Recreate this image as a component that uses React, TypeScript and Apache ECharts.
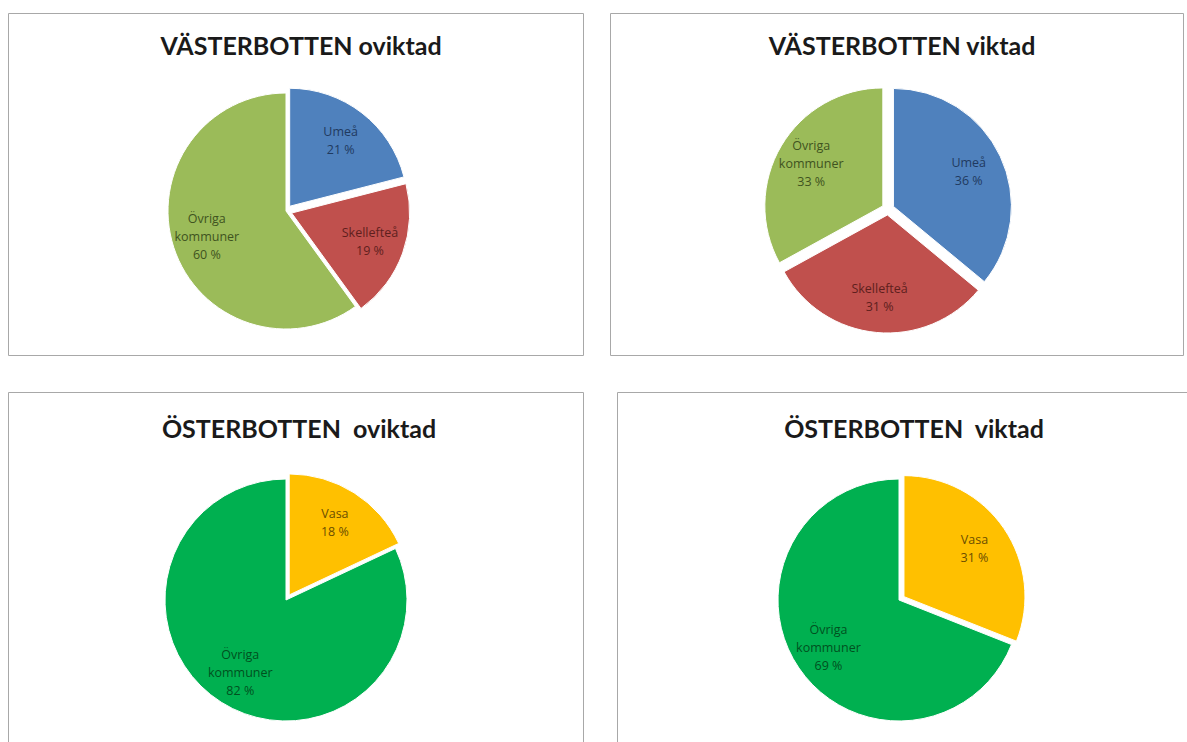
import React, { useEffect, useRef } from "react";
import * as echarts from "echarts";

const vbCategories = ["Umeå", "Skellefteå", "Övriga\nkommuner"];
const vbUnweighted = [21, 19, 60];
const vbWeighted = [36, 31, 33];
const obCategories = ["Vasa", "Övriga\nkommuner"];
const obUnweighted = [18, 82];
const obWeighted = [31, 69];

const titles = [
  "VÄSTERBOTTEN oviktad",
  "VÄSTERBOTTEN viktad",
  "ÖSTERBOTTEN  oviktad",
  "ÖSTERBOTTEN  viktad",
];

const vbColors = ["#4F81BD", "#C0504D", "#9BBB59"];
const vbLabelColors = ["#1F3A60", "#5E1F1D", "#3F5320"];
const obColors = ["#FFC000", "#00B050"];
const obLabelColors = ["#6B4E00", "#00501F"];

function makePie(
  cats: string[],
  vals: number[],
  colors: string[],
  labelColors: string[],
  selected: boolean[],
  center: [number, number],
  r: number
) {
  const base = {
    type: "pie",
    center,
    startAngle: 90,
    clockwise: true,
    selectedMode: "multiple",
    selectedOffset: 6,
    avoidLabelOverlap: false,
    silent: true,
    emphasis: { disabled: true },
    labelLine: { show: false },
  };
  const pie = {
    ...base,
    radius: [0, r],
    label: { show: false },
    data: cats.map((c, i) => ({
      name: c,
      value: vals[i],
      selected: selected[i],
      itemStyle: { color: colors[i], borderColor: "#ffffff", borderWidth: 1 },
    })),
  };
  const labels = {
    ...base,
    radius: [r * 0.36, r],
    z: 5,
    label: {
      show: true,
      position: "inside",
      formatter: "{b}\n{c} %",
      fontFamily: "Open Sans",
      fontSize: 12.5,
      lineHeight: 18,
    },
    data: cats.map((c, i) => ({
      name: c,
      value: vals[i],
      selected: selected[i],
      itemStyle: { color: "rgba(0,0,0,0)", borderWidth: 0 },
      label: { color: labelColors[i] },
    })),
  };
  return [pie, labels];
}

export default function App() {
  const ref = useRef<HTMLDivElement>(null);
  useEffect(() => {
    if (!ref.current) return;
    const chart = echarts.init(ref.current, undefined, { renderer: "svg" });
    const titleCenters: [number, number][] = [
      [296, 27],
      [897, 27],
      [294, 410],
      [909, 410],
    ];
    const option = {
      animation: false,
      backgroundColor: "#ffffff",
      title: titles.map((t, i) => ({
        text: t,
        left: titleCenters[i][0],
        top: titleCenters[i][1],
        textAlign: "center",
        textStyle: {
          fontFamily: "Lato",
          fontWeight: "bold",
          fontSize: 25,
          color: "#1a1a1a",
        },
      })),
      graphic: [
        { x: 8.5, y: 13.5, w: 575, h: 342 },
        { x: 610.5, y: 13.5, w: 573, h: 342 },
        { x: 8.5, y: 392.5, w: 575, h: 400 },
        { x: 617.5, y: 392.5, w: 600, h: 400 },
      ].map((b) => ({
        type: "rect",
        shape: { x: b.x, y: b.y, width: b.w, height: b.h },
        style: { fill: "none", stroke: "#A8A8A8", lineWidth: 1 },
        silent: true,
      })),
      series: [
        ...makePie(vbCategories, vbUnweighted, vbColors, vbLabelColors, [true, true, false], [286, 211], 118),
        ...makePie(vbCategories, vbWeighted, vbColors, vbLabelColors, [true, true, true], [888, 209], 118),
        ...makePie(obCategories, obUnweighted, obColors, obLabelColors, [true, false], [286, 600], 121),
        ...makePie(obCategories, obWeighted, obColors, obLabelColors, [true, false], [899, 600], 121),
      ],
    };
    chart.setOption(option as any);
    return () => chart.dispose();
  }, []);
  return (
    <div
      ref={ref}
      style={{ position: "fixed", left: 0, top: 0, width: 1187, height: 742 }}
    />
  );
}
